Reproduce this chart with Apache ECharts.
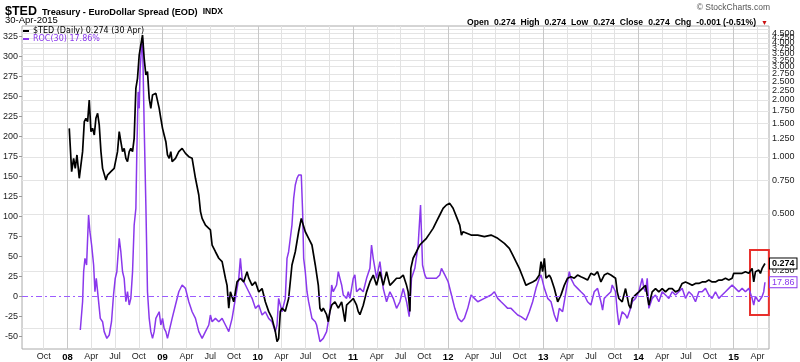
<!DOCTYPE html>
<html><head><meta charset="utf-8">
<script src="https://cdn.jsdelivr.net/npm/echarts@6/dist/echarts.min.js"></script>
<style>html,body{margin:0;padding:0;background:#fff}#c{width:800px;height:362px}</style>
</head><body><div id="c"></div>
<script>
// $TED daily close (x = decimal year)
const tedYears = [2008.019,2008.044,2008.065,2008.082,2008.100,2008.124,2008.159,2008.177,2008.194,2008.212,2008.229,2008.247,2008.264,2008.282,2008.299,2008.317,2008.334,2008.352,2008.369,2008.404,2008.421,2008.456,2008.491,2008.526,2008.544,2008.561,2008.579,2008.596,2008.614,2008.631,2008.649,2008.666,2008.684,2008.701,2008.719,2008.736,2008.754,2008.771,2008.789,2008.806,2008.824,2008.841,2008.859,2008.876,2008.894,2008.929,2008.946,2008.964,2008.981,2008.999,2009.016,2009.034,2009.051,2009.069,2009.086,2009.100,2009.135,2009.170,2009.205,2009.240,2009.275,2009.310,2009.345,2009.380,2009.398,2009.415,2009.450,2009.502,2009.520,2009.555,2009.590,2009.625,2009.660,2009.677,2009.695,2009.712,2009.747,2009.782,2009.817,2009.852,2009.887,2009.905,2009.940,2009.975,2010.010,2010.045,2010.079,2010.114,2010.149,2010.184,2010.202,2010.219,2010.237,2010.254,2010.289,2010.324,2010.359,2010.394,2010.429,2010.457,2010.499,2010.534,2010.569,2010.604,2010.636,2010.653,2010.671,2010.688,2010.723,2010.741,2010.758,2010.776,2010.811,2010.846,2010.881,2010.898,2010.916,2010.933,2010.968,2011.003,2011.038,2011.055,2011.073,2011.108,2011.143,2011.178,2011.213,2011.248,2011.283,2011.318,2011.353,2011.388,2011.423,2011.458,2011.493,2011.528,2011.563,2011.580,2011.598,2011.608,2011.632,2011.667,2011.702,2011.737,2011.772,2011.807,2011.842,2011.877,2011.912,2011.947,2011.982,2012.017,2012.052,2012.087,2012.122,2012.140,2012.157,2012.241,2012.311,2012.381,2012.451,2012.521,2012.591,2012.643,2012.678,2012.713,2012.748,2012.783,2012.818,2012.853,2012.888,2012.923,2012.958,2012.976,2012.993,2013.011,2013.028,2013.063,2013.081,2013.098,2013.116,2013.151,2013.186,2013.220,2013.255,2013.290,2013.325,2013.360,2013.395,2013.430,2013.465,2013.500,2013.535,2013.570,2013.605,2013.640,2013.675,2013.710,2013.724,2013.759,2013.777,2013.794,2013.829,2013.864,2013.899,2013.917,2013.934,2013.969,2014.004,2014.039,2014.074,2014.109,2014.144,2014.179,2014.214,2014.249,2014.284,2014.319,2014.354,2014.389,2014.424,2014.459,2014.494,2014.529,2014.564,2014.599,2014.634,2014.669,2014.704,2014.739,2014.774,2014.809,2014.844,2014.879,2014.914,2014.949,2014.984,2015.001,2015.019,2015.054,2015.089,2015.124,2015.159,2015.194,2015.211,2015.229,2015.264,2015.281,2015.299,2015.329];
const tedValues = [1.417,0.837,0.984,0.871,1.025,0.772,1.067,1.537,1.600,1.537,2.000,1.361,1.417,1.307,1.600,1.701,1.476,1.067,0.871,0.756,0.803,0.837,0.871,1.067,1.361,1.205,1.067,1.111,0.984,0.945,1.067,1.111,1.067,1.255,2.305,2.603,3.456,3.904,4.410,3.320,2.711,2.823,2.041,1.807,2.126,2.169,2.126,1.807,1.600,1.417,1.307,1.205,1.025,0.984,1.067,0.945,0.984,1.067,1.111,1.045,1.004,0.984,0.772,0.630,0.515,0.474,0.437,0.412,0.343,0.316,0.292,0.280,0.229,0.210,0.159,0.194,0.172,0.219,0.229,0.219,0.248,0.229,0.210,0.219,0.194,0.202,0.172,0.153,0.141,0.120,0.106,0.110,0.153,0.159,0.153,0.179,0.269,0.316,0.403,0.474,0.403,0.372,0.343,0.269,0.210,0.159,0.153,0.159,0.147,0.135,0.153,0.165,0.172,0.159,0.172,0.153,0.135,0.165,0.172,0.179,0.165,0.153,0.147,0.165,0.194,0.219,0.238,0.210,0.248,0.210,0.248,0.210,0.219,0.229,0.229,0.238,0.210,0.194,0.153,0.258,0.292,0.316,0.343,0.357,0.372,0.395,0.420,0.456,0.494,0.536,0.558,0.569,0.536,0.484,0.437,0.387,0.403,0.387,0.387,0.380,0.387,0.372,0.350,0.329,0.304,0.280,0.258,0.233,0.210,0.215,0.219,0.224,0.238,0.280,0.248,0.292,0.229,0.238,0.229,0.233,0.202,0.172,0.187,0.210,0.229,0.233,0.229,0.238,0.233,0.229,0.224,0.243,0.238,0.248,0.219,0.238,0.243,0.238,0.243,0.229,0.194,0.179,0.172,0.202,0.165,0.159,0.179,0.187,0.194,0.202,0.210,0.165,0.194,0.202,0.194,0.202,0.194,0.202,0.202,0.194,0.198,0.215,0.219,0.215,0.210,0.215,0.215,0.219,0.219,0.224,0.219,0.219,0.224,0.224,0.229,0.224,0.229,0.243,0.238,0.243,0.243,0.248,0.243,0.258,0.219,0.248,0.253,0.243,0.258,0.274];
// ROC(30) in percent
const rocYears = [2008.135,2008.159,2008.170,2008.184,2008.201,2008.212,2008.222,2008.236,2008.254,2008.275,2008.289,2008.303,2008.324,2008.345,2008.369,2008.386,2008.414,2008.439,2008.463,2008.484,2008.502,2008.519,2008.544,2008.561,2008.579,2008.596,2008.614,2008.631,2008.649,2008.666,2008.684,2008.701,2008.719,2008.729,2008.743,2008.754,2008.764,2008.778,2008.789,2008.806,2008.824,2008.841,2008.859,2008.876,2008.894,2008.911,2008.929,2008.946,2008.964,2008.981,2008.999,2009.016,2009.034,2009.051,2009.069,2009.100,2009.135,2009.170,2009.205,2009.240,2009.275,2009.310,2009.345,2009.380,2009.415,2009.450,2009.485,2009.502,2009.520,2009.555,2009.590,2009.625,2009.660,2009.695,2009.730,2009.765,2009.800,2009.817,2009.835,2009.870,2009.905,2009.940,2009.975,2010.010,2010.045,2010.079,2010.114,2010.149,2010.184,2010.202,2010.219,2010.254,2010.289,2010.307,2010.324,2010.359,2010.377,2010.394,2010.412,2010.429,2010.457,2010.471,2010.482,2010.499,2010.517,2010.534,2010.569,2010.604,2010.618,2010.653,2010.688,2010.723,2010.758,2010.776,2010.793,2010.828,2010.846,2010.863,2010.881,2010.898,2010.933,2010.951,2010.968,2011.003,2011.020,2011.038,2011.073,2011.108,2011.143,2011.178,2011.195,2011.213,2011.248,2011.283,2011.318,2011.353,2011.388,2011.423,2011.458,2011.493,2011.528,2011.563,2011.591,2011.615,2011.650,2011.685,2011.710,2011.731,2011.755,2011.772,2011.807,2011.842,2011.877,2011.912,2011.930,2011.965,2012.000,2012.035,2012.070,2012.105,2012.140,2012.171,2012.206,2012.241,2012.276,2012.311,2012.381,2012.451,2012.486,2012.521,2012.556,2012.591,2012.626,2012.661,2012.696,2012.731,2012.766,2012.818,2012.853,2012.888,2012.923,2012.958,2012.976,2013.011,2013.046,2013.081,2013.116,2013.144,2013.168,2013.203,2013.238,2013.273,2013.290,2013.325,2013.360,2013.395,2013.430,2013.465,2013.500,2013.535,2013.570,2013.605,2013.623,2013.640,2013.675,2013.710,2013.724,2013.759,2013.777,2013.794,2013.812,2013.829,2013.864,2013.882,2013.917,2013.934,2013.969,2014.004,2014.039,2014.057,2014.074,2014.092,2014.109,2014.144,2014.179,2014.214,2014.249,2014.284,2014.319,2014.354,2014.389,2014.424,2014.459,2014.494,2014.529,2014.564,2014.599,2014.634,2014.669,2014.704,2014.739,2014.774,2014.809,2014.844,2014.879,2014.914,2014.949,2014.984,2015.019,2015.054,2015.089,2015.124,2015.159,2015.194,2015.211,2015.229,2015.264,2015.299,2015.316,2015.329];
const rocValues = [-41.9,-6.5,31.0,47.7,39.4,72.7,101.9,81.0,64.4,39.4,6.0,22.7,-2.3,-27.3,-31.5,-43.9,-52.3,-48.1,-31.5,1.9,22.7,31.0,72.7,56.0,31.0,22.7,-6.5,6.0,-10.6,-2.3,31.0,89.4,110.2,181.0,256.0,235.2,285.2,310.2,322.7,214.4,114.4,6.0,-27.3,-43.9,-52.3,-43.9,-27.3,-27.3,-19.0,-35.6,-27.3,-39.8,-43.9,-52.3,-50.2,-27.3,-10.6,6.0,14.4,10.2,-6.5,-19.0,-27.3,-43.9,-52.3,-43.9,-35.6,-23.1,-31.5,-27.3,-31.5,-27.3,-35.6,-43.9,-27.3,-2.3,22.7,47.7,22.7,14.4,6.0,-2.3,-14.8,-10.6,-23.1,-19.0,-27.3,-31.5,-43.9,-35.6,-2.3,-19.0,-2.3,47.7,56.0,89.4,122.7,139.4,147.7,151.9,151.9,106.0,47.7,31.0,6.0,-6.5,-27.3,-31.5,-35.6,-56.5,-52.3,-43.9,-19.0,14.4,6.0,14.4,31.0,22.7,14.4,1.9,-2.3,6.0,-2.3,22.7,27.0,6.0,10.2,6.0,22.7,35.2,64.4,47.7,22.7,43.5,10.2,-6.5,6.0,-2.3,-14.8,-6.5,10.2,-6.5,-25.2,22.7,35.2,64.4,114.4,39.4,27.0,22.7,22.7,22.7,22.7,27.0,35.2,27.0,18.5,1.9,-14.8,-27.3,-31.5,-27.3,-14.8,1.9,-2.3,-6.5,-2.3,1.9,6.0,-2.3,-6.5,-10.6,-14.8,-14.8,-19.0,-23.1,-25.2,-29.4,-19.0,-6.5,10.2,22.7,27.0,10.2,-2.3,-6.5,-23.1,-31.5,-14.8,-19.0,6.0,31.0,22.7,14.4,10.2,6.0,1.9,-6.5,-10.6,6.0,10.2,-6.5,-16.9,-2.3,1.9,6.0,14.4,6.0,-19.0,-35.6,-27.3,-19.0,-23.1,-27.3,-14.8,-6.5,-2.3,6.0,22.7,10.2,6.0,22.7,-14.8,-2.3,1.9,-6.5,6.0,1.9,-2.3,6.0,1.9,6.0,10.2,-2.3,6.0,1.9,-6.5,6.0,6.0,10.2,1.9,-2.3,6.0,-2.3,1.9,6.0,10.2,14.4,10.2,6.0,10.2,6.0,10.2,-2.3,-10.6,0,-6.5,0,6.0,17.86];
// axis ticks
const xTickYears = [2007.75,2008,2008.25,2008.5,2008.75,2009,2009.25,2009.5,2009.75,2010,2010.25,2010.5,2010.75,2011,2011.25,2011.5,2011.75,2012,2012.25,2012.5,2012.75,2013,2013.25,2013.5,2013.75,2014,2014.25,2014.5,2014.75,2015,2015.25];
const leftTicks = [-50,-25,0,25,50,75,100,125,150,175,200,225,250,275,300,325];
const rightTicks = [0.25,0.5,0.75,1,1.25,1.5,1.75,2,2.25,2.5,2.75,3,3.25,3.5,3.75,4,4.25,4.5,4.75];
const rightGridLines = [0.125].concat(rightTicks);
const monthLabels = ['', 'Apr', 'Jul', 'Oct'];

const PURPLE = '#8a38ec';
const FONT = 'Liberation Sans, Arial, sans-serif';

const chart = echarts.init(document.getElementById('c'), null, {renderer: 'canvas'});
chart.setOption({
  animation: false,
  backgroundColor: '#fff',
  textStyle: {fontFamily: FONT},
  title: [
    {text: '{a|$TED} {b|Treasury - EuroDollar Spread (EOD)} {c|INDX}', left: 5, top: 3, padding: 0,
     textStyle: {rich: {
       a: {fontSize: 12.5, fontWeight: 'bold', color: '#000', fontFamily: FONT},
       b: {fontSize: 9.2, color: '#000', fontFamily: FONT},
       c: {fontSize: 8.5, color: '#000', fontFamily: FONT}}}},
    {text: '30-Apr-2015', left: 5, top: 15, padding: 0,
     textStyle: {fontSize: 9.5, fontWeight: 'normal', color: '#000', fontFamily: FONT}},
    {text: '© StockCharts.com', right: 30, top: 3, padding: 0,
     textStyle: {fontSize: 8.5, fontWeight: 'normal', color: '#555', fontFamily: FONT}},
    {text: '{l|Open} {v|0.274} {l|High} {v|0.274} {l|Low} {v|0.274} {l|Close} {v|0.274} {l|Chg} {v|-0.001 (-0.51%)} {r|▼}',
     right: 32, top: 14, padding: 0,
     textStyle: {rich: {
       l: {fontSize: 8.6, fontWeight: 'bold', color: '#000', fontFamily: FONT},
       v: {fontSize: 8.6, color: '#000', fontFamily: FONT},
       r: {fontSize: 7, color: '#cc1111', fontFamily: FONT}}}}
  ],
  legend: {
    orient: 'vertical', left: 23, top: 27, padding: 0, itemGap: 0,
    icon: 'rect', itemWidth: 6, itemHeight: 2,
    textStyle: {fontSize: 8, fontFamily: 'DejaVu Sans', lineHeight: 8, padding: [0,0,0,-1]},
    data: [
      {name: '$TED (Daily) 0.274 (30 Apr)', textStyle: {color: '#000'}},
      {name: 'ROC(30) 17.86%', textStyle: {color: PURPLE}}
    ]
  },
  grid: {left: 21, right: 31, top: 26, bottom: 13, show: true, borderColor: '#aaa', borderWidth: 1, backgroundColor: '#fff', containLabel: false},
  xAxis: {
    type: 'value', min: 2007.5226, max: 2015.3714,
    axisLine: {show: false},
    axisTick: {show: false, customValues: xTickYears},
    axisLabel: {
      customValues: xTickYears, margin: 3, fontSize: 9, color: '#222', fontFamily: FONT,
      formatter: function (v) {
        const y = Math.floor(v + 1e-6);
        const q = Math.round((v - y) * 4);
        if (q === 0) return '{y|' + String(y % 100).padStart(2, '0') + '}';
        return monthLabels[q];
      },
      rich: {y: {fontSize: 9.5, fontWeight: 'bold', color: '#000', fontFamily: FONT}}
    },
    splitLine: {show: true, lineStyle: {color: ['#e2e2e2', '#c8c8c8', '#e2e2e2', '#e2e2e2'], width: 1}}
  },
  yAxis: [
    {
      type: 'value', position: 'left', min: -65.6, max: 338.1,
      axisLine: {show: false},
      axisTick: {show: true, length: 3, customValues: leftTicks, lineStyle: {color: '#999'}},
      axisLabel: {customValues: leftTicks, margin: 4, fontSize: 9, color: '#222', fontFamily: FONT},
      splitLine: {show: false}
    },
    {
      type: 'value', position: 'right', min: -3.368, max: 2.298,
      axisLine: {show: false},
      axisTick: {show: false, customValues: rightGridLines.map(Math.log2)},
      axisLabel: {customValues: rightTicks.map(Math.log2), margin: 3, fontSize: 9, color: '#222', fontFamily: FONT,
        formatter: function (v) { return Math.pow(2, v).toFixed(3); }},
      splitLine: {show: true, lineStyle: {color: '#e4e4e4', width: 1}}
    }
  ],
  series: [
    {
      name: 'ROC(30) 17.86%', type: 'line', yAxisIndex: 0, z: 2,
      data: rocYears.map((x, i) => [x, rocValues[i]]),
      showSymbol: false, symbol: 'none',
      lineStyle: {color: PURPLE, width: 1.5}, itemStyle: {color: PURPLE},
      endLabel: {show: true, distance: 5, formatter: '17.86', color: PURPLE, fontSize: 9, fontFamily: FONT,
        backgroundColor: '#fff', borderColor: PURPLE, borderWidth: 1, padding: [1, 2, 0, 2]},
      markLine: {silent: true, symbol: 'none', label: {show: false},
        lineStyle: {color: '#9c5cff', type: [6, 3, 2, 3], width: 1}, data: [{yAxis: 0}]},
      markArea: {silent: true, itemStyle: {color: 'rgba(0,0,0,0)', borderColor: '#e8302c', borderWidth: 2},
        data: [[{xAxis: 2015.172, yAxis: 58}, {xAxis: 2015.37, yAxis: -23}]]}
    },
    {
      name: '$TED (Daily) 0.274 (30 Apr)', type: 'line', yAxisIndex: 1, z: 3,
      data: tedYears.map((x, i) => [x, Math.log2(tedValues[i])]),
      showSymbol: false, symbol: 'none',
      lineStyle: {color: '#000', width: 1.7}, itemStyle: {color: '#000'},
      endLabel: {show: true, distance: 5, formatter: '0.274', color: '#000', fontSize: 9, fontWeight: 'bold', fontFamily: FONT,
        backgroundColor: '#fff', borderColor: '#000', borderWidth: 1, padding: [1, 2, 0, 2]}
    }
  ]
});
</script></body></html>
